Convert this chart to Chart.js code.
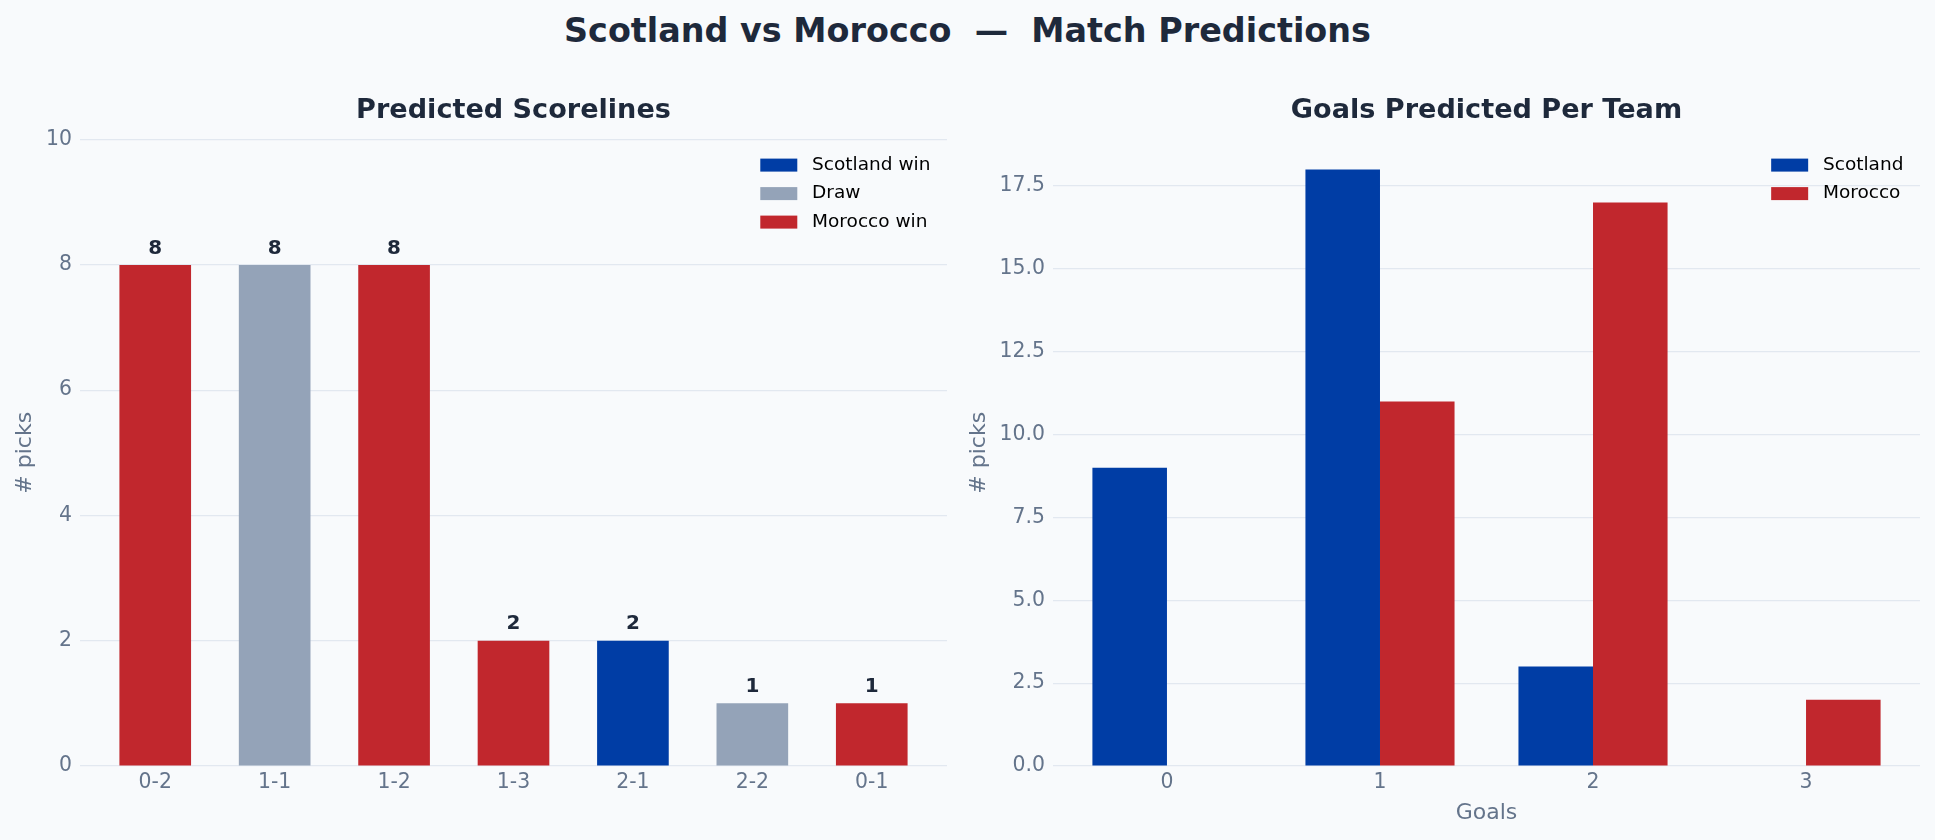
<!DOCTYPE html>
<html>
<head>
<meta charset="utf-8">
<title>Scotland vs Morocco — Match Predictions</title>
<script src="https://cdn.jsdelivr.net/npm/chart.js@4.4.1/dist/chart.umd.min.js"></script>
<style>
  html, body { margin: 0; padding: 0; background: #f8fafc; }
  body { width: 1935px; height: 840px; position: relative; overflow: hidden; font-family: "DejaVu Sans", sans-serif; }
  #suptitle { position: absolute; left: 0; top: 14px; width: 1935px; text-align: center; font-weight: bold;
              font-size: 33.4px; line-height: 33px; color: #1e293b; white-space: pre; }
  .panel { position: absolute; top: 0; height: 840px; }
  #left { left: 0; width: 967px; }
  #right { left: 967px; width: 968px; }
</style>
</head>
<body>
<div id="suptitle">Scotland vs Morocco  —  Match Predictions</div>
<div class="panel" id="left"><canvas id="scoreChart"></canvas></div>
<div class="panel" id="right"><canvas id="goalsChart"></canvas></div>
<script>
// Scorelines (Scotland goals first)
const scorelines = ["0-2", "1-1", "1-2", "1-3", "2-1", "2-2", "0-1"];
const scorePicks = [8, 8, 8, 2, 2, 1, 1];
const scoreTicks = [0, 2, 4, 6, 8, 10];

// Goals per team
const goals = [0, 1, 2, 3];
const scotlandGoals = [9, 18, 3, 0];
const moroccoGoals = [0, 11, 17, 2];
const goalTicks = [0, 2.5, 5, 7.5, 10, 12.5, 15, 17.5];

const outcomeLabels = ["Scotland win", "Draw", "Morocco win"];
const outcomeColors = ["#003da5", "#94a3b8", "#c1272d"];

const TITLE = "#1e293b";
const MUTED = "#64748b";
const GRID = "#e2e8f0";

Chart.defaults.font.family = "'DejaVu Sans', sans-serif";

// 0 = Scotland win, 1 = draw, 2 = Morocco win
function outcome(s) {
    const [a, b] = s.split("-").map(Number);
    return a > b ? 0 : (a === b ? 1 : 2);
}

// subplot title, legend inside the plot, optional value labels
const panelText = {
    id: "panelText",
    afterDatasetsDraw(chart, args, opts) {
        if (!opts.showValues) return;
        const ctx = chart.ctx;
        ctx.save();
        ctx.font = "bold 20px 'DejaVu Sans'";
        ctx.fillStyle = TITLE;
        ctx.textAlign = "center";
        ctx.textBaseline = "middle";
        chart.getDatasetMeta(0).data.forEach((bar, i) => {
            ctx.fillText(String(chart.data.datasets[0].data[i].y), bar.x, bar.y - 16.5);
        });
        ctx.restore();
    },
    afterDraw(chart, args, opts) {
        const ctx = chart.ctx, area = chart.chartArea;
        ctx.save();
        ctx.font = "bold 27.1px 'DejaVu Sans'";
        ctx.fillStyle = TITLE;
        ctx.textAlign = "center";
        ctx.textBaseline = "middle";
        ctx.fillText(opts.title, (area.left + area.right) / 2, 111);

        ctx.font = "18.5px 'DejaVu Sans'";
        const textW = Math.max(...opts.legend.map(l => ctx.measureText(l.text).width));
        const textX = area.right - 16.6 - textW;
        const boxX = textX - 14.8 - 37;
        ctx.textAlign = "left";
        opts.legend.forEach((item, i) => {
            const cy = area.top + 25.5 + i * 28.5;
            ctx.fillStyle = item.color;
            ctx.fillRect(boxX, cy - 6.5, 37, 13);
            ctx.fillStyle = "#000000";
            ctx.fillText(item.text, textX, cy);
        });
        ctx.restore();
    }
};

function yAxis(width, max, ticks, fmt, titlePad) {
    return {
        min: 0,
        max: max,
        afterFit: s => { s.width = width; },
        afterBuildTicks: s => { s.ticks = ticks.map(v => ({ value: v })); },
        grid: { color: GRID, lineWidth: 1.2, drawTicks: false },
        border: { display: false },
        ticks: { color: MUTED, font: { size: 20.4, lineHeight: 1.2 }, padding: 8, callback: fmt },
        title: { display: true, text: "# picks", color: MUTED, font: { size: 22, lineHeight: 1 }, padding: { top: titlePad } }
    };
}

function xAxis(min, max, values, labels, title) {
    return {
        type: "linear",
        offset: false,
        min: min,
        max: max,
        afterFit: s => { s.height = 74; },
        afterBuildTicks: s => { s.ticks = values.map(v => ({ value: v })); },
        grid: { display: false, drawTicks: false, offset: false },
        border: { display: false },
        ticks: { color: MUTED, font: { size: 20.4, lineHeight: 1.2 }, padding: 4, autoSkip: false, maxRotation: 0,
                 callback: v => labels[values.indexOf(v)] },
        title: { display: !!title, text: title || "", color: MUTED, font: { size: 22, lineHeight: 1 }, padding: { bottom: 16 } }
    };
}

// Left: predicted scorelines
new Chart(document.getElementById("scoreChart"), {
    type: "bar",
    data: {
        datasets: [{
            label: "# picks",
            data: scorelines.map((s, i) => ({ x: i, y: scorePicks[i] })),
            backgroundColor: scorelines.map(s => outcomeColors[outcome(s)]),
            barPercentage: 0.6,
            categoryPercentage: 1
        }]
    },
    options: {
        responsive: true,
        maintainAspectRatio: false,
        animation: false,
        events: [],
        layout: { padding: { top: 139.6, right: 20, bottom: 0, left: 0 } },
        scales: {
            x: xAxis(-0.63, 6.63, scorelines.map((s, i) => i), scorelines, null),
            y: yAxis(80, 10, scoreTicks, v => String(v), 14)
        },
        plugins: {
            legend: { display: false },
            tooltip: { enabled: false },
            panelText: {
                title: "Predicted Scorelines",
                showValues: true,
                legend: outcomeLabels.map((t, i) => ({ text: t, color: outcomeColors[i] }))
            }
        }
    },
    plugins: [panelText]
});

// Right: goals predicted per team
new Chart(document.getElementById("goalsChart"), {
    type: "bar",
    data: {
        datasets: [
            {
                label: "Scotland",
                data: goals.map((g, i) => ({ x: g, y: scotlandGoals[i] })),
                backgroundColor: outcomeColors[0],
                barPercentage: 1,
                categoryPercentage: 0.7
            },
            {
                label: "Morocco",
                data: goals.map((g, i) => ({ x: g, y: moroccoGoals[i] })),
                backgroundColor: outcomeColors[2],
                barPercentage: 1,
                categoryPercentage: 0.7
            }
        ]
    },
    options: {
        responsive: true,
        maintainAspectRatio: false,
        animation: false,
        events: [],
        layout: { padding: { top: 139.6, right: 15, bottom: 0, left: 0 } },
        scales: {
            x: xAxis(-0.535, 3.535, goals, goals.map(String), "Goals"),
            y: yAxis(86, 18.9, goalTicks, v => v.toFixed(1), 1)
        },
        plugins: {
            legend: { display: false },
            tooltip: { enabled: false },
            panelText: {
                title: "Goals Predicted Per Team",
                showValues: false,
                legend: [
                    { text: "Scotland", color: outcomeColors[0] },
                    { text: "Morocco", color: outcomeColors[2] }
                ]
            }
        }
    },
    plugins: [panelText]
});
</script>
</body>
</html>
